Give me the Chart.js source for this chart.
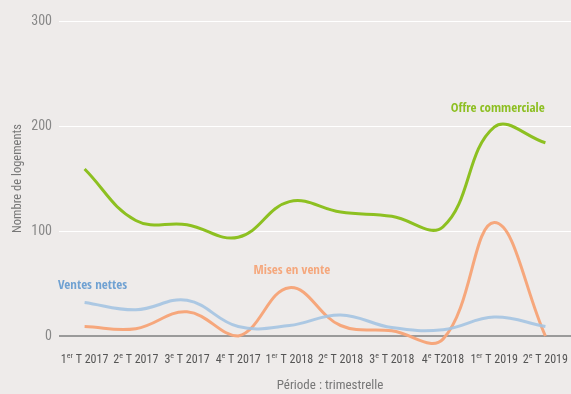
<!DOCTYPE html>
<html>
<head>
<meta charset="utf-8">
<script src="https://cdn.jsdelivr.net/npm/chart.js@4.4.1/dist/chart.umd.min.js"></script>
<style>
  html, body { margin: 0; padding: 0; background: #eeebea; }
  #wrap { width: 571px; height: 394px; position: relative; }
</style>
</head>
<body>
<div id="wrap"><canvas id="chart"></canvas></div>
<script>
const FONT = "'Roboto Condensed', 'Liberation Sans Narrow', sans-serif";
const FONT_BOLD = "'Open Sans Condensed', 'Roboto Condensed', sans-serif";
Chart.defaults.font.family = FONT;

const labels = ['1er T 2017', '2e T 2017', '3e T 2017', '4e T 2017', '1er T 2018',
                '2e T 2018', '3e T 2018', '4e T2018', '1er T 2019', '2e T 2019'];
const offre  = [159, 110, 106, 94, 128, 118, 114, 104, 199, 184];
const mises  = [9, 7, 23, 0, 46, 10, 5, -3, 108, 0];
const ventes = [32, 25, 34, 9, 10, 20, 8, 6, 18, 9];
const yTicks = [0, 100, 200, 300];
const xTitle = 'Période : trimestrelle';
const yTitle = 'Nombre de logements';

// series name labels, anchored on category index / value
const seriesNotes = [
  { text: 'Offre commerciale', color: '#8dbf22', idx: 7.15, val: 217 },
  { text: 'Mises en vente',    color: '#f5a77c', idx: 3.3,  val: 62 },
  { text: 'Ventes nettes',     color: '#6fa1d2', idx: -0.52, val: 48 },
];

// tick labels with superscript ("er" / "e") + x title
const tickLabelPlugin = {
  id: 'tickLabels',
  afterDraw(chart) {
    const { ctx, scales: { x } } = chart;
    ctx.save();
    ctx.fillStyle = '#555';
    ctx.textBaseline = 'alphabetic';
    labels.forEach((lab, i) => {
      const m = lab.match(/^(\d)(er|e)(.*)$/);
      const parts = [[m[1], 12, 0], [m[2], 8, -5], [m[3], 12, 0]];
      let w = 0;
      parts.forEach(p => { ctx.font = `${p[1]}px ${FONT}`; w += ctx.measureText(p[0]).width; });
      let cx = x.getPixelForTick(i) - w / 2;
      parts.forEach(p => {
        ctx.font = `${p[1]}px ${FONT}`;
        ctx.fillText(p[0], cx, 363 + p[2]);
        cx += ctx.measureText(p[0]).width;
      });
    });
    ctx.font = `13px ${FONT}`;
    ctx.fillStyle = '#777';
    ctx.textAlign = 'center';
    ctx.fillText(xTitle, (x.getPixelForTick(4) + x.getPixelForTick(5)) / 2 + 15, 389);
    ctx.restore();
  }
};

const notesPlugin = {
  id: 'notes',
  afterDraw(chart) {
    const { ctx, scales: { x, y } } = chart;
    ctx.save();
    ctx.font = `bold 13px ${FONT_BOLD}`;
    ctx.textBaseline = 'middle';
    ctx.textAlign = 'left';
    seriesNotes.forEach(n => {
      ctx.fillStyle = n.color;
      ctx.fillText(n.text, x.getPixelForValue(n.idx), y.getPixelForValue(n.val));
    });
    ctx.restore();
  }
};

const line = (data, color, order) => ({
  data,
  borderColor: color,
  borderWidth: 3,
  pointRadius: 0,
  tension: 0.4,
  fill: false,
  clip: false,
  order,
});

new Chart(document.getElementById('chart'), {
  type: 'line',
  data: {
    labels,
    datasets: [
      line(offre, '#8dc021', 1),
      line(ventes, 'rgba(164,196,226,0.9)', 2),
      line(mises, '#f6a77c', 3),
    ]
  },
  options: {
    responsive: true,
    maintainAspectRatio: false,
    animation: false,
    layout: { padding: { top: 21, right: 0, left: 0, bottom: 0 } },
    plugins: { legend: { display: false }, tooltip: { enabled: false } },
    scales: {
      x: {
        offset: true,
        grid: { display: false },
        border: { display: false },
        ticks: { display: false },
        afterFit: s => { s.height = 58; }
      },
      y: {
        min: 0,
        max: 300,
        afterBuildTicks: s => { s.ticks = yTicks.map(v => ({ value: v })); },
        grid: {
          color: c => c.tick.value === 0 ? '#9a9a9a' : '#ffffff',
          lineWidth: c => c.tick.value === 0 ? 2 : 1,
          drawTicks: false,
        },
        border: { display: false },
        ticks: { color: '#888', font: { size: 14 }, padding: 7 },
        title: { display: true, text: yTitle, color: '#777', font: { size: 12.5 }, padding: { top: 10, bottom: 0 } },
        afterFit: s => { s.width = 59; }
      }
    }
  },
  plugins: [tickLabelPlugin, notesPlugin]
});
</script>
</body>
</html>
